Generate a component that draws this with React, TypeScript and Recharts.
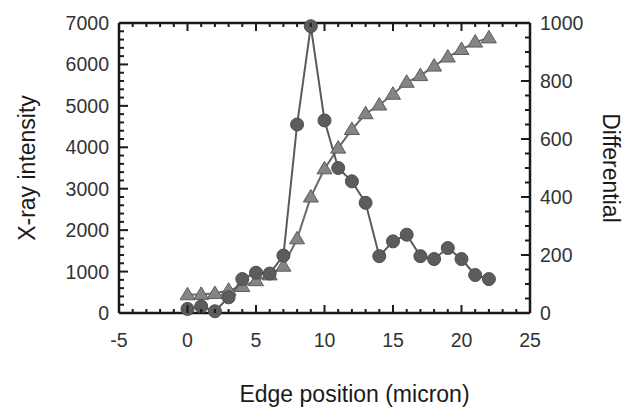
import React from 'react';
import { LineChart, Line, XAxis, YAxis } from 'recharts';

// edge positions (micron)
const positions = [0, 1, 2, 3, 4, 5, 6, 7, 8, 9, 10, 11, 12, 13, 14, 15, 16, 17, 18, 19, 20, 21, 22];

// X-ray intensity (left axis, triangles)
const intensity = [440, 450, 470, 550, 640, 780, 920, 1130, 1790, 2800, 3480, 3980, 4430, 4810, 5020, 5280, 5570, 5730, 5960, 6180, 6360, 6540, 6640];

// Differential (right axis, circles)
const differential = [14, 23, 6, 54, 117, 139, 136, 198, 650, 989, 664, 500, 454, 380, 196, 247, 270, 196, 186, 224, 186, 131, 117];

const xTicks = [-5, -4, -3, -2, -1, 0, 1, 2, 3, 4, 5, 6, 7, 8, 9, 10, 11, 12, 13, 14, 15, 16, 17, 18, 19, 20, 21, 22, 23, 24, 25];
const leftTicks = [0, 200, 400, 600, 800, 1000, 1200, 1400, 1600, 1800, 2000, 2200, 2400, 2600, 2800, 3000, 3200, 3400, 3600, 3800, 4000, 4200, 4400, 4600, 4800, 5000, 5200, 5400, 5600, 5800, 6000, 6200, 6400, 6600, 6800, 7000];
const rightTicks = [0, 50, 100, 150, 200, 250, 300, 350, 400, 450, 500, 550, 600, 650, 700, 750, 800, 850, 900, 950, 1000];

const data = positions.map((x, i) => ({ x, intensity: intensity[i], differential: differential[i] }));

const INK = '#1a1a1a';
const LABEL = '#333';
const FONT = '"Liberation Sans", Arial, sans-serif';

const BottomTick = (props: any) => {
  const x = Number(props.x);
  const y = Number(props.y);
  const v = props.payload.value;
  const major = v % 5 === 0;
  return (
    <g>
      <path d={`M${x},${y}L${x},${y - (major ? 8 : 4)}`} stroke={INK} strokeWidth={2} fill="none" />
      {major && (
        <text x={x} y={y + 34} textAnchor="middle" fontSize={19.5} fill={LABEL} fontFamily={FONT}>
          {v}
        </text>
      )}
    </g>
  );
};

const TopTick = (props: any) => {
  const x = Number(props.x);
  const y = Number(props.y);
  const major = props.payload.value % 5 === 0;
  return <path d={`M${x},${y}L${x},${y + (major ? 8 : 4)}`} stroke={INK} strokeWidth={2} fill="none" />;
};

const LeftTick = (props: any) => {
  const x = Number(props.x);
  const y = Number(props.y);
  const v = props.payload.value;
  const major = v % 1000 === 0;
  return (
    <g>
      <path d={`M${x},${y}L${x + (major ? 9 : 5)},${y}`} stroke={INK} strokeWidth={2} fill="none" />
      {major && (
        <text x={x - 10} y={y + 7} textAnchor="end" fontSize={19.5} fill={LABEL} fontFamily={FONT}>
          {v}
        </text>
      )}
    </g>
  );
};

const RightTick = (props: any) => {
  const x = Number(props.x);
  const y = Number(props.y);
  const v = props.payload.value;
  const major = v % 200 === 0;
  return (
    <g>
      <path d={`M${x},${y}L${x - (major ? 9 : 5)},${y}`} stroke={INK} strokeWidth={2} fill="none" />
      {major && (
        <text x={x + 10} y={y + 7} textAnchor="start" fontSize={19.5} fill={LABEL} fontFamily={FONT}>
          {v}
        </text>
      )}
    </g>
  );
};

const Triangle = ({ cx, cy }: any) => {
  if (cx == null || cy == null) return null;
  return (
    <polygon
      points={`${cx},${cy - 7.5} ${cx - 7.5},${cy + 5} ${cx + 7.5},${cy + 5}`}
      fill="#858585"
      stroke="#5c5c5c"
      strokeWidth={1}
    />
  );
};

const XTitle = ({ viewBox }: any) => (
  <text
    x={viewBox.x + viewBox.width / 2 + 30}
    y={viewBox.y + 89}
    textAnchor="middle"
    fontSize={23}
    fill={INK}
    fontFamily={FONT}
  >
    Edge position (micron)
  </text>
);

const LeftTitle = ({ viewBox }: any) => {
  const cx = 27;
  const cy = viewBox.y + viewBox.height / 2;
  return (
    <text
      x={cx}
      y={cy}
      transform={`rotate(-90 ${cx} ${cy})`}
      textAnchor="middle"
      dominantBaseline="central"
      fontSize={23}
      fill={INK}
      fontFamily={FONT}
    >
      X-ray intensity
    </text>
  );
};

const RightTitle = ({ viewBox }: any) => {
  const cx = viewBox.x + 81;
  const cy = viewBox.y + viewBox.height / 2;
  return (
    <text
      x={cx}
      y={cy}
      transform={`rotate(90 ${cx} ${cy})`}
      textAnchor="middle"
      dominantBaseline="central"
      fontSize={23}
      fill={INK}
      fontFamily={FONT}
    >
      Differential
    </text>
  );
};

export default function App() {
  return (
    <div style={{ position: 'absolute', left: 0, top: 0, width: 626, height: 414, background: '#fff' }}>
      <LineChart width={626} height={414} data={data} margin={{ top: 0, right: 0, bottom: 0, left: 0 }}>
        <XAxis
          dataKey="x"
          type="number"
          domain={[-5, 25]}
          ticks={xTicks}
          interval={0}
          height={101}
          tickSize={0}
          tickMargin={0}
          axisLine={{ stroke: INK, strokeWidth: 2.5 }}
          tick={BottomTick}
          label={<XTitle />}
        />
        <XAxis
          xAxisId="top"
          orientation="top"
          dataKey="x"
          type="number"
          domain={[-5, 25]}
          ticks={xTicks}
          interval={0}
          height={23}
          tickSize={0}
          tickMargin={0}
          axisLine={{ stroke: INK, strokeWidth: 2.5 }}
          tick={TopTick}
        />
        <YAxis
          yAxisId="left"
          domain={[0, 7000]}
          ticks={leftTicks}
          interval={0}
          width={119}
          tickSize={0}
          tickMargin={0}
          axisLine={{ stroke: INK, strokeWidth: 2.5 }}
          tick={LeftTick}
          label={<LeftTitle />}
        />
        <YAxis
          yAxisId="right"
          orientation="right"
          domain={[0, 1000]}
          ticks={rightTicks}
          interval={0}
          width={96}
          tickSize={0}
          tickMargin={0}
          axisLine={{ stroke: INK, strokeWidth: 2.5 }}
          tick={RightTick}
          label={<RightTitle />}
        />
        <Line
          yAxisId="left"
          dataKey="intensity"
          type="linear"
          stroke="#6a6a6a"
          strokeWidth={2}
          dot={<Triangle />}
          activeDot={false}
          isAnimationActive={false}
        />
        <Line
          yAxisId="right"
          dataKey="differential"
          type="linear"
          stroke="#5a5a5a"
          strokeWidth={2}
          dot={{ r: 6.5, fill: '#5c5c5c', stroke: '#4d4d4d', strokeWidth: 1 }}
          activeDot={false}
          isAnimationActive={false}
        />
      </LineChart>
    </div>
  );
}
